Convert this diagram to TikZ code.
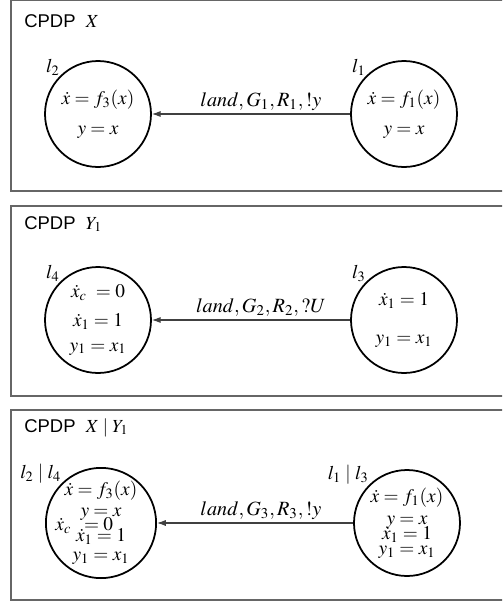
\documentclass[tikz,border=0pt]{standalone}
\usepackage{mathptmx}
\usepackage[no-math]{fontspec}
\setmainfont{Liberation Serif}
\setsansfont{Liberation Sans}
\usetikzlibrary{arrows.meta, positioning}
\tikzset{
  frame/.style={draw=black!60, line width=0.7pt},
  ttl/.style={anchor=base west, inner sep=0pt, font=\sffamily\fontsize{10.5}{12}\selectfont},
  loc/.style={draw, circle, line width=1pt, minimum size=2.12cm, inner sep=0pt, align=center, font=\fontsize{11}{13}\selectfont},
  lab/.style={inner sep=0pt, font=\fontsize{11}{13}\selectfont},
  elab/.style={inner sep=1.5pt, text=black, font=\fontsize{11.5}{13}\selectfont},
  flow/.style={-{Latex[length=5pt,width=3.5pt]}, line width=0.6pt, black!75}
}

\begin{document}
\begin{tikzpicture}
  \useasboundingbox (0,0) rectangle (10.04,-12.06);
  \clip (0,0) rectangle (10.04,-12.06);
  % CPDP X
  \draw[frame] (0.22,-0.01) rectangle (10.4,-3.82);
  \node[ttl] (tx) at (0.48,-0.54) {CPDP~~$X$};
  \node[loc, label={[lab]135:$l_2$}] (l2) at (1.96,-2.28) {$\dot{x} = f_3(x)$\\[4pt] $y = x$};
  \node[loc, label={[lab]135:$l_1$}] (l1) at (8.08,-2.28) {$\dot{x} = f_1(x)$\\[4pt] $y = x$};
  \draw[flow] (l1) -- node[above, pos=0.45, elab] (e1) {$land, G_1, R_1, !y$} (l2);
  % CPDP Y1
  \draw[frame] (0.22,-4.12) rectangle (10.4,-7.92);
  \node[ttl] (ty) at (0.48,-4.58) {CPDP~~$Y_1$};
  \node[loc, label={[lab]135:$l_4$}] (l4) at (1.96,-6.4) {$\dot{x}_c\ = 0$\\[3pt] $\dot{x}_1 = 1$\\[1.2pt] $y_1 = x_1$};
  \node[loc, label={[lab]135:$l_3$}] (l3) at (8.08,-6.4) {$\dot{x}_1 = 1$\\[9pt] $y_1 = x_1$};
  \draw[flow] (l3) -- node[above, pos=0.45, elab] (e2) {$land, G_2, R_2, ?U$} (l4);
  % CPDP X | Y1
  \draw[frame] (0.22,-8.2) rectangle (10.4,-12.0);
  \node[ttl] (txy) at (0.48,-8.64) {CPDP~~$X \mid Y_1$};
  \node[loc, label={[lab]135:$l_2 \mid l_4$}] (l24) at (2.02,-10.46)
    {$\dot{x} = f_3(x)$\\[-1.1pt] $y = x$\\[-5.1pt] \hspace*{-19pt}$\dot{x}_c \;\; = 0$\\[-6.8pt] $\dot{x}_1 = 1$\\[-2.2pt] $y_1 = x_1$};
  \node[loc, label={[lab]135:$l_1 \mid l_3$}] (l13) at (8.14,-10.46)
    {$\dot{x} = f_1(x)$\\[-0.5pt] $y = x$\\[-4.5pt] $\dot{x}_1 = 1$\\[-4.5pt] $y_1 = x_1$};
  \draw[flow] (l13) -- node[above, pos=0.47, elab] (e3) {$land, G_3, R_3, !y$} (l24);
\end{tikzpicture}
\end{document}
